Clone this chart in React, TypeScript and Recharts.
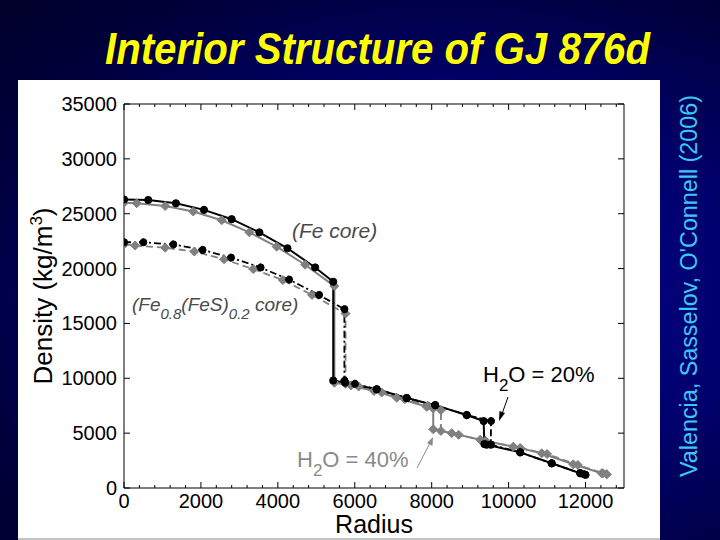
import React from 'react';
import { LineChart, Line, XAxis, YAxis } from 'recharts';

// ---- Data (radius in km, density in kg/m^3) ----
const feCore20R = [0, 630, 1350, 2080, 2800, 3520, 4250, 4970, 5440, 5440, 5750, 6570, 7350, 8090, 8910, 9350, 9370, 9430, 10300, 11120, 11860, 11960];
const feCore20D = [26300, 26250, 25950, 25350, 24500, 23300, 21850, 20100, 18800, 9800, 9600, 9000, 8200, 7550, 6650, 6100, 4000, 3950, 3250, 2250, 1350, 1250];

const feS20R = [0, 500, 1280, 2040, 2780, 3550, 4290, 5070, 5730, 5730, 6000, 6570, 7350, 8090, 8910, 9540, 9540, 10300, 11120, 11860, 12000];
const feS20D = [22400, 22400, 22200, 21700, 21000, 20100, 19000, 17600, 16300, 9800, 9500, 9000, 8200, 7550, 6650, 6100, 3950, 3250, 2250, 1350, 1200];

const feCore40R = [0, 330, 1070, 1800, 2540, 3260, 3970, 4710, 5470, 5470, 5900, 6500, 7090, 7870, 8040, 8040, 8520, 9260, 10120, 10860, 11680, 12420, 12550];
const feCore40D = [26000, 25950, 25700, 25200, 24400, 23300, 22000, 20350, 18400, 9600, 9350, 8850, 8230, 7400, 7250, 5350, 5000, 4400, 3770, 3160, 2160, 1340, 1250];

const feS40R = [0, 290, 1070, 1830, 2600, 3360, 4130, 4890, 5760, 5760, 6100, 6700, 7300, 7900, 8240, 8240, 8700, 9400, 10300, 11000, 11800, 12450, 12550];
const feS40D = [22200, 22100, 21900, 21550, 20850, 19950, 18950, 17600, 15900, 9500, 9250, 8700, 8100, 7500, 7100, 5200, 4850, 4300, 3650, 3100, 2100, 1350, 1250];

const xMajorTicks = [0, 2000, 4000, 6000, 8000, 10000, 12000];
const xAllTicks = [0, 400, 800, 1200, 1600, 2000, 2400, 2800, 3200, 3600, 4000, 4400, 4800, 5200, 5600, 6000, 6400, 6800, 7200, 7600, 8000, 8400, 8800, 9200, 9600, 10000, 10400, 10800, 11200, 11600, 12000, 12400, 12800];
const yTicks = [0, 5000, 10000, 15000, 20000, 25000, 30000, 35000];

const zip = (r: number[], d: number[]) => r.map((v, i) => ({ r: v, d: d[i] }));
const fe20 = zip(feCore20R, feCore20D);
const fes20 = zip(feS20R, feS20D);
const fe40 = zip(feCore40R, feCore40D);
const fes40 = zip(feS40R, feS40D);

const FONT = '"Liberation Sans", Arial, Helvetica, sans-serif';
const GRAY = '#808080';

const isMajorX = (v: number) => xMajorTicks.indexOf(v) >= 0;

const BottomTick = (props: any) => {
  const { x, y, payload } = props;
  const major = isMajorX(payload.value);
  return (
    <g>
      <line x1={x} y1={y} x2={x} y2={y - (major ? 6 : 3)} stroke="#000" strokeWidth={1} />
      {major && (
        <text x={x} y={y + 20} textAnchor="middle" fontSize={20} fontFamily={FONT} fill="#000">
          {payload.value}
        </text>
      )}
    </g>
  );
};

const TopTick = (props: any) => {
  const { x, y, payload } = props;
  const major = isMajorX(payload.value);
  return <line x1={x} y1={y} x2={x} y2={y + (major ? 6 : 3)} stroke="#000" strokeWidth={1} />;
};

const LeftTick = (props: any) => {
  const { x, y, payload } = props;
  return (
    <g>
      <line x1={x} y1={y} x2={x + 6} y2={y} stroke="#000" strokeWidth={1} />
      <text x={x - 7} y={y + 7} textAnchor="end" fontSize={20} fontFamily={FONT} fill="#000">
        {payload.value}
      </text>
    </g>
  );
};

const RightTick = (props: any) => {
  const { x, y } = props;
  return <line x1={x} y1={y} x2={x - 6} y2={y} stroke="#000" strokeWidth={1} />;
};

const Diamond = (props: any) => {
  const { cx, cy, index } = props;
  if (cx == null || cy == null) return <g key={index} />;
  const s = 4.5;
  return (
    <path
      key={index}
      d={`M${cx},${cy - s} L${cx + s},${cy} L${cx},${cy + s} L${cx - s},${cy} Z`}
      fill={GRAY}
      stroke={GRAY}
      strokeWidth={1}
    />
  );
};

export default function App() {
  return (
    <div
      style={{
        position: 'absolute',
        left: 0,
        top: 0,
        width: 720,
        height: 540,
        overflow: 'hidden',
        background: 'radial-gradient(ellipse at 62% 55%, #0a0a8e 0%, #000070 45%, #00003a 80%, #000028 100%)',
        fontFamily: FONT,
      }}
    >
      <div
        style={{
          position: 'absolute',
          left: 18,
          top: 80,
          width: 642,
          height: 458,
          background: '#fff',
          borderBottom: '2px solid #c4c4c4',
        }}
      />
      <div style={{ position: 'absolute', left: 0, top: 0 }}>
        <LineChart width={720} height={540} margin={{ top: 94, right: 86, bottom: 12, left: 24 }}>
          <XAxis
            xAxisId="b"
            type="number"
            dataKey="r"
            domain={[0, 13000]}
            allowDataOverflow
            ticks={xAllTicks}
            interval={0}
            tickLine={false}
            tickSize={0}
            tickMargin={0}
            tick={BottomTick}
            height={40}
            axisLine={{ stroke: '#000', strokeWidth: 1 }}
          />
          <XAxis
            xAxisId="t"
            orientation="top"
            type="number"
            dataKey="r"
            domain={[0, 13000]}
            allowDataOverflow
            ticks={xAllTicks}
            interval={0}
            tickLine={false}
            tickSize={0}
            tickMargin={0}
            tick={TopTick}
            height={10}
            axisLine={{ stroke: '#000', strokeWidth: 1 }}
          />
          <YAxis
            yAxisId="l"
            type="number"
            dataKey="d"
            domain={[0, 35000]}
            allowDataOverflow
            ticks={yTicks}
            interval={0}
            tickLine={false}
            tickSize={0}
            tickMargin={0}
            tick={LeftTick}
            width={100}
            axisLine={{ stroke: '#000', strokeWidth: 1 }}
          />
          <YAxis
            yAxisId="r"
            orientation="right"
            type="number"
            dataKey="d"
            domain={[0, 35000]}
            allowDataOverflow
            ticks={yTicks}
            interval={0}
            tickLine={false}
            tickSize={0}
            tickMargin={0}
            tick={RightTick}
            width={10}
            axisLine={{ stroke: '#000', strokeWidth: 1 }}
          />
          <Line
            xAxisId="b"
            yAxisId="l"
            data={fes40}
            dataKey="d"
            type="linear"
            stroke={GRAY}
            strokeWidth={1.8}
            strokeDasharray="7 4"
            dot={Diamond}
            isAnimationActive={false}
          />
          <Line
            xAxisId="b"
            yAxisId="l"
            data={fe40}
            dataKey="d"
            type="linear"
            stroke={GRAY}
            strokeWidth={2}
            dot={Diamond}
            isAnimationActive={false}
          />
          <Line
            xAxisId="b"
            yAxisId="l"
            data={fes20}
            dataKey="d"
            type="linear"
            stroke="#000"
            strokeWidth={1.8}
            strokeDasharray="7 3 2 3"
            dot={{ r: 3.6, fill: '#000', stroke: '#000', strokeWidth: 1 }}
            isAnimationActive={false}
          />
          <Line
            xAxisId="b"
            yAxisId="l"
            data={fe20}
            dataKey="d"
            type="linear"
            stroke="#000"
            strokeWidth={2}
            dot={{ r: 3.6, fill: '#000', stroke: '#000', strokeWidth: 1 }}
            isAnimationActive={false}
          />
        </LineChart>
      </div>
      <svg
        width={720}
        height={540}
        style={{ position: 'absolute', left: 0, top: 0, pointerEvents: 'none' }}
      >
        <text
          x={105}
          y={64}
          fontSize={44}
          fontWeight="bold"
          fontStyle="italic"
          fontFamily={FONT}
          fill="#ffff00"
          textLength={545}
          lengthAdjust="spacingAndGlyphs"
        >
          Interior Structure of GJ 876d
        </text>
        <text
          x={697}
          y={477}
          transform="rotate(-90 697 477)"
          fontSize={23}
          fontFamily={FONT}
          fill="#3cc8f5"
          textLength={382}
          lengthAdjust="spacingAndGlyphs"
        >
          Valencia, Sasselov, O'Connell (2006)
        </text>
        <text x={374} y={533} textAnchor="middle" fontSize={25} fontFamily={FONT} fill="#000">
          Radius
        </text>
        <text
          x={52}
          y={296}
          transform="rotate(-90 52 296)"
          textAnchor="middle"
          fontSize={26}
          fontFamily={FONT}
          fill="#000"
        >
          Density (kg/m
          <tspan dy={-10} fontSize={17}>3</tspan>
          <tspan dy={10}>)</tspan>
        </text>
        <text x={292} y={238} fontSize={21} fontStyle="italic" fontFamily={FONT} fill="#4a4a4a">
          (Fe core)
        </text>
        <text x={132} y={311} fontSize={19} fontStyle="italic" fontFamily={FONT} fill="#4a4a4a">
          (Fe
          <tspan dy={8} fontSize={15}>0.8</tspan>
          <tspan dy={-8}>(FeS)</tspan>
          <tspan dy={8} fontSize={15}>0.2</tspan>
          <tspan dy={-8}> core)</tspan>
        </text>
        <text x={483} y={382} fontSize={22} fontFamily={FONT} fill="#000">
          H<tspan dy={9} fontSize={17}>2</tspan>
          <tspan dy={-9}>O = 20%</tspan>
        </text>
        <text x={297} y={467} fontSize={22} fontFamily={FONT} fill="#8a8a8a">
          H<tspan dy={9} fontSize={17}>2</tspan>
          <tspan dy={-9}>O = 40%</tspan>
        </text>
        <line x1={508} y1={397} x2={502} y2={414} stroke="#000" strokeWidth={1} />
        <path d="M499,421 L499.5,411 L505,413 Z" fill="#000" />
        <line x1={417} y1={468} x2={430} y2={443} stroke="#8a8a8a" strokeWidth={1} />
        <path d="M433,437 L432.5,446 L427,443 Z" fill="#8a8a8a" />
      </svg>
    </div>
  );
}
